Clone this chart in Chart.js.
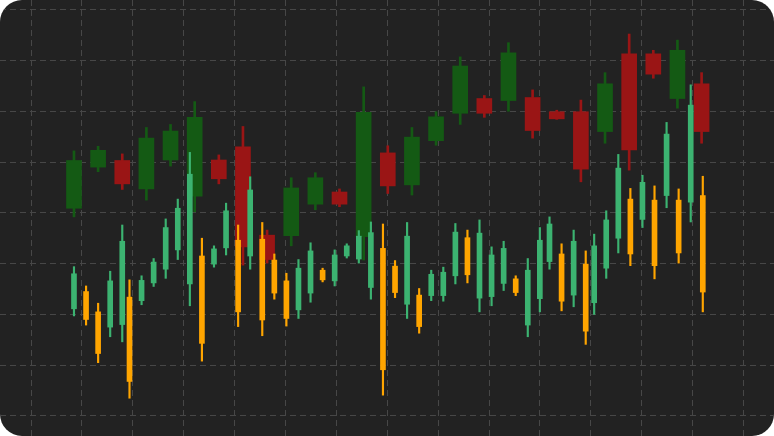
<!DOCTYPE html>
<html>
<head>
<meta charset="utf-8">
<script src="https://cdn.jsdelivr.net/npm/chart.js@4/dist/chart.umd.min.js"></script>
<style>
  html, body { margin:0; padding:0; background:#fff; }
  .wrap { width:774px; height:436px; border-radius:22px; overflow:hidden; background:#222; }
  canvas { display:block; }
</style>
</head>
<body>
<div class="wrap"><canvas id="chart" width="774" height="436"></canvas></div>
<script>
// Series A — wide candles (one every two days)
const aDays  = [0,2,4,6,8,10,12,14,16,18,20,22,24,26,28,30,32,34,36,38,40,42,44,46,48,50,52];
const aOpen  = [140.9,149.0,150.3,144.7,150.4,143.3,150.4,153.0,135.6,135.5,141.7,144.1,135.3,151.8,145.5,154.2,159.6,162.5,162.1,162.7,159.9,159.9,156.0,171.3,171.3,162.5,165.4];
const aHigh  = [152.2,153.1,151.6,156.8,157.4,161.9,151.4,157.0,136.6,146.9,147.9,144.7,164.8,153.2,156.8,159.9,170.7,163.1,173.5,164.2,160.2,162.2,167.6,175.2,172.0,174.0,167.6];
const aLow   = [139.2,148.1,144.6,142.5,149.2,140.2,145.7,129.7,130.1,133.5,140.6,141.2,130.7,143.8,143.5,153.3,157.4,158.8,160.0,154.7,158.4,146.1,153.7,148.4,166.5,160.6,153.7];
const aClose = [150.3,152.3,145.7,154.7,156.1,158.8,146.7,133.3,130.8,144.9,146.9,141.7,159.8,145.3,154.9,158.9,168.9,159.6,171.5,156.2,158.5,148.6,165.4,152.4,167.3,172.0,156.0];

// Series B — narrow candles
const bDays  = [0,1,2,3,4,4.6,5.6,6.6,7.6,8.6,9.6,10.6,11.6,12.6,13.6,14.6,15.6,16.6,17.6,18.6,19.6,20.6,21.6,22.6,23.6,24.6,25.6,26.6,27.6,28.6,29.6,30.6,31.6,32.6,33.6,34.6,35.6,36.6,37.6,38.6,39.4,40.4,41.4,42.4,43.1,44.1,45.1,46.1,47.1,48.1,49.1,50.1,51.1,52.1];
const bOpen  = [121.1,124.5,120.5,117.5,118.0,123.4,122.7,126.2,128.9,132.7,126.0,131.5,129.9,133.1,134.6,131.5,134.8,130.7,126.6,120.9,124.2,128.7,126.6,131.5,130.9,125.3,133.0,129.5,122.0,123.8,123.7,123.7,127.6,135.1,123.2,123.5,126.1,127.0,117.9,123.1,130.4,131.9,123.8,129.9,122.3,129.1,135.0,142.7,138.7,142.5,143.4,142.5,142.1,143.4];
const bHigh  = [129.4,125.6,122.2,128.5,137.6,126.8,127.6,131.0,138.8,142.7,151.9,135.0,133.5,141.9,137.6,147.1,138.1,131.9,128.1,130.8,134.1,129.1,132.7,133.9,136.5,138.2,137.8,130.6,138.1,125.1,128.7,129.3,137.9,136.6,138.6,133.3,134.4,127.6,131.0,137.1,139.2,133.9,136.6,132.5,135.8,140.4,151.5,144.8,147.4,145.3,157.8,144.7,165.2,147.2];
const bLow   = [119.7,117.9,110.5,115.6,114.6,103.5,121.9,125.5,127.1,130.8,121.7,110.8,129.3,131.7,117.6,128.9,115.8,123.0,117.7,119.2,122.4,126.4,125.6,131.1,130.1,123.0,104.1,123.3,119.2,116.3,122.7,122.6,126.0,126.2,120.5,121.7,124.7,123.7,115.6,120.5,128.9,120.7,121.5,114.1,120.0,127.1,132.1,129.6,137.1,127.0,141.0,130.1,138.2,120.5];
const bClose = [128.0,119.0,112.3,126.6,134.4,106.8,126.7,130.3,137.1,140.9,147.6,114.3,132.9,140.4,120.5,144.5,118.9,124.2,119.2,129.1,132.5,126.8,131.7,133.5,135.4,136.1,109.1,124.3,135.4,117.6,127.9,128.3,136.2,127.8,136.0,131.7,133.0,124.3,128.7,134.6,137.8,122.6,134.4,116.7,133.5,138.6,148.8,131.9,146.0,129.6,155.5,132.1,161.2,124.4];

// Grid
const yGrid = [100,110,120,130,140,150,160,170,180];
const xGridStart = -3.56, xGridStep = 4.217, xGridCount = 15;

const GRID = '#474747';

function candleSets(days, o, h, l, c, up, down, bodyW, wickW) {
  const col = days.map((d,i) => c[i] >= o[i] ? up : down);
  return [
    { data: days.map((d,i) => ({ x:d, y:[o[i], c[i]] })), backgroundColor: col, barThickness: bodyW },
    { data: days.map((d,i) => ({ x:d, y:[l[i], h[i]] })), backgroundColor: col, barThickness: wickW }
  ];
}

const setsB = candleSets(bDays, bOpen, bHigh, bLow, bClose, '#3cb371', '#ffa500', 5, 1.5);
const setsA = candleSets(aDays, aOpen, aHigh, aLow, aClose, '#145a14', '#9a1515', 15, 2);

new Chart(document.getElementById('chart'), {
  type: 'bar',
  data: { datasets: [...setsB, ...setsA].map(d => ({ ...d, borderWidth:0, grouped:false })) },
  options: {
    responsive: false,
    animation: false,
    devicePixelRatio: 1,
    layout: { padding: 0 },
    plugins: { legend: { display:false }, tooltip: { enabled:false } },
    scales: {
      x: {
        type: 'linear', min: -6.13, max: 58.0, offset: false,
        grid: { color: GRID, drawTicks: false, offset: false },
        border: { display: false, dash: [6,4] },
        ticks: { display: false },
        afterBuildTicks: s => { s.ticks = Array.from({length:xGridCount}, (_,k) => ({ value: xGridStart + k*xGridStep })); }
      },
      y: {
        min: 96.06, max: 181.9,
        grid: { color: GRID, drawTicks: false },
        border: { display: false, dash: [6,4] },
        ticks: { display: false },
        afterBuildTicks: s => { s.ticks = yGrid.map(v => ({ value: v })); }
      }
    }
  }
});
</script>
</body>
</html>
